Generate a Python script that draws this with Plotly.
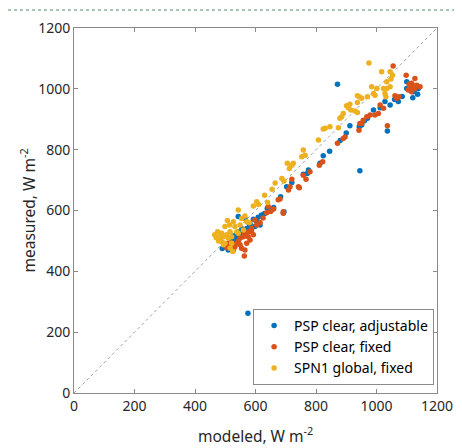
import plotly.graph_objects as go

# ---- data (modeled, measured) in W m-2 ----
blue_pts = [(490,475),(500,480),(505,490),(510,470),(515,495),(520,505),(525,515),(530,500),
            (535,520),(538,514),(543,580),(545,530),(549,525),(555,540),(560,534),(565,574),
            (571,541),(580,555),(582,556),(593,571),(598,547),(604,563),(609,578),(615,552),
            (620,585),(630,590),(639,607),(653,602),(660,610),(683,645),(692,593),(694,596),
            (703,678),(720,692),(758,719),(771,722),(775,733),(813,755),(824,780),(845,795),
            (871,1015),(880,830),(900,855),(912,879),(943,875),(945,731),(951,881),(960,895),
            (970,903),(990,930),(1012,938),(1028,958),(1036,861),(1045,947),(1060,965),
            (1072,958),(1085,975),(1100,1023),(1100,1001),(1110,1000),(1120,971),(1122,990),
            (1125,995),(1136,982),(1138,1001),(575,262)]
orange_pts = [(500,490),(505,478),(510,485),(518,495),(527,470),(532,481),(538,492),(543,498),
              (549,509),(549,487),(554,476),(560,514),(563,450),(565,525),(565,470),(571,492),
              (576,530),(576,514),(582,503),(587,541),(587,530),(593,520),(598,569),(604,552),
              (615,560),(625,575),(637,593),(642,613),(650,597),(660,605),(675,635),(681,638),
              (692,591),(692,596),(709,667),(714,678),(720,703),(742,678),(745,675),(758,716),
              (767,703),(780,727),(811,749),(822,760),(871,821),(890,837),(896,842),(942,864),
              (945,886),(951,886),(956,897),(968,908),(979,914),(995,914),(1006,919),(1012,947),
              (1023,936),(1036,879),(1055,1075),(1061,977),(1067,969),(1074,974),(1098,1045),
              (1105,996),(1111,1007),(1116,1018),(1116,990),(1127,1034),(1127,1001),(1133,1012),
              (1144,1007),(1120,1010),(1108,1015)]
yellow_pts = [(465,520),(470,510),(475,530),(478,500),(483,520),(483,505),(488,525),(488,498),
              (494,514),(494,487),(499,547),(499,492),(505,520),(507,567),(510,509),(514,552),
              (516,530),(516,476),(521,514),(521,492),(525,465),(527,563),(532,547),(538,530),
              (543,602),(543,525),(549,552),(554,574),(560,536),(565,582),(571,563),(580,560),
              (593,615),(604,629),(610,620),(630,650),(640,626),(655,670),(665,690),(687,705),
              (694,697),(705,755),(712,738),(720,749),(725,755),(753,777),(758,799),(764,782),
              (808,832),(824,868),(830,870),(846,875),(874,872),(879,903),(885,908),(890,919),
              (901,944),(907,938),(912,949),(915,930),(929,927),(937,922),(937,955),(937,977),
              (943,974),(951,969),(970,974),(975,1085),(984,1007),(990,985),(995,979),(1001,1001),
              (1017,1056),(1023,1001),(1028,985),(1031,974),(1034,1001),(1034,1023),(1045,1056),
              (1045,1007),(1048,1032),(1053,1045)]

blue_x = [p[0] for p in blue_pts]; blue_y = [p[1] for p in blue_pts]
orange_x = [p[0] for p in orange_pts]; orange_y = [p[1] for p in orange_pts]
yellow_x = [p[0] for p in yellow_pts]; yellow_y = [p[1] for p in yellow_pts]

ref_line = [0, 1200]
tick_vals = [0, 200, 400, 600, 800, 1000, 1200]
series_names = ["PSP clear, adjustable", "PSP clear, fixed", "SPN1 global, fixed"]
colors = ["#0072BD", "#D95319", "#EDB120"]
x_title = "modeled, W m<sup>-2</sup>"
y_title = "measured, W m<sup>-2</sup>"

# page has an 8px body margin; figure coordinates are page minus 8
W, H = 454, 440
L, R, T, B = 66, 25, 20, 55
pw, ph = W - L - R, H - T - B

fig = go.Figure()
fig.add_trace(go.Scatter(x=ref_line, y=ref_line, mode="lines", showlegend=False,
                         line=dict(color="#a0a0a0", width=1, dash="dot"), hoverinfo="skip"))
for xs, ys, name, c in [(blue_x, blue_y, series_names[0], colors[0]),
                        (orange_x, orange_y, series_names[1], colors[1]),
                        (yellow_x, yellow_y, series_names[2], colors[2])]:
    fig.add_trace(go.Scatter(x=xs, y=ys, mode="markers", name=name,
                             marker=dict(color=c, size=5.5, line=dict(width=0))))

axis_common = dict(range=[0, 1200], tickvals=tick_vals, showgrid=False, zeroline=False,
                   showline=True, linecolor="#8a8a8a", linewidth=1, mirror="ticks",
                   ticks="inside", ticklen=4, tickcolor="#8a8a8a", automargin=False,
                   tickfont=dict(size=14, color="#262626"))

fig.update_layout(
    width=W, height=H,
    margin=dict(l=L, r=R, t=T, b=B, autoexpand=False),
    paper_bgcolor="white", plot_bgcolor="white",
    font=dict(family="Noto Sans", size=14, color="#262626"),
    xaxis=dict(**axis_common),
    yaxis=dict(**axis_common),
    legend=dict(x=0.992, xanchor="right", y=0.022, yanchor="bottom",
                bgcolor="white", bordercolor="#8a8a8a", borderwidth=1,
                font=dict(size=14, color="#000000"), itemwidth=30,
                tracegroupgap=0),
    showlegend=True,
    annotations=[
        dict(text=x_title, xref="paper", yref="paper", x=0.5, y=-(427 - (T + ph)) / ph,
             xanchor="center", yanchor="middle", showarrow=False,
             font=dict(size=15.5, color="#262626")),
        dict(text=y_title, xref="paper", yref="paper", x=-(L - 20) / pw, y=0.5,
             xanchor="center", yanchor="middle", showarrow=False, textangle=-90,
             font=dict(size=15.5, color="#262626")),
    ],
    shapes=[dict(type="line", xref="paper", yref="paper",
                 x0=-L / pw, x1=(W - L) / pw, y0=(T + ph - 2) / ph, y1=(T + ph - 2) / ph,
                 line=dict(color="#4f8a5f", width=1, dash="dot"))],
)

fig.write_html("out.html")
